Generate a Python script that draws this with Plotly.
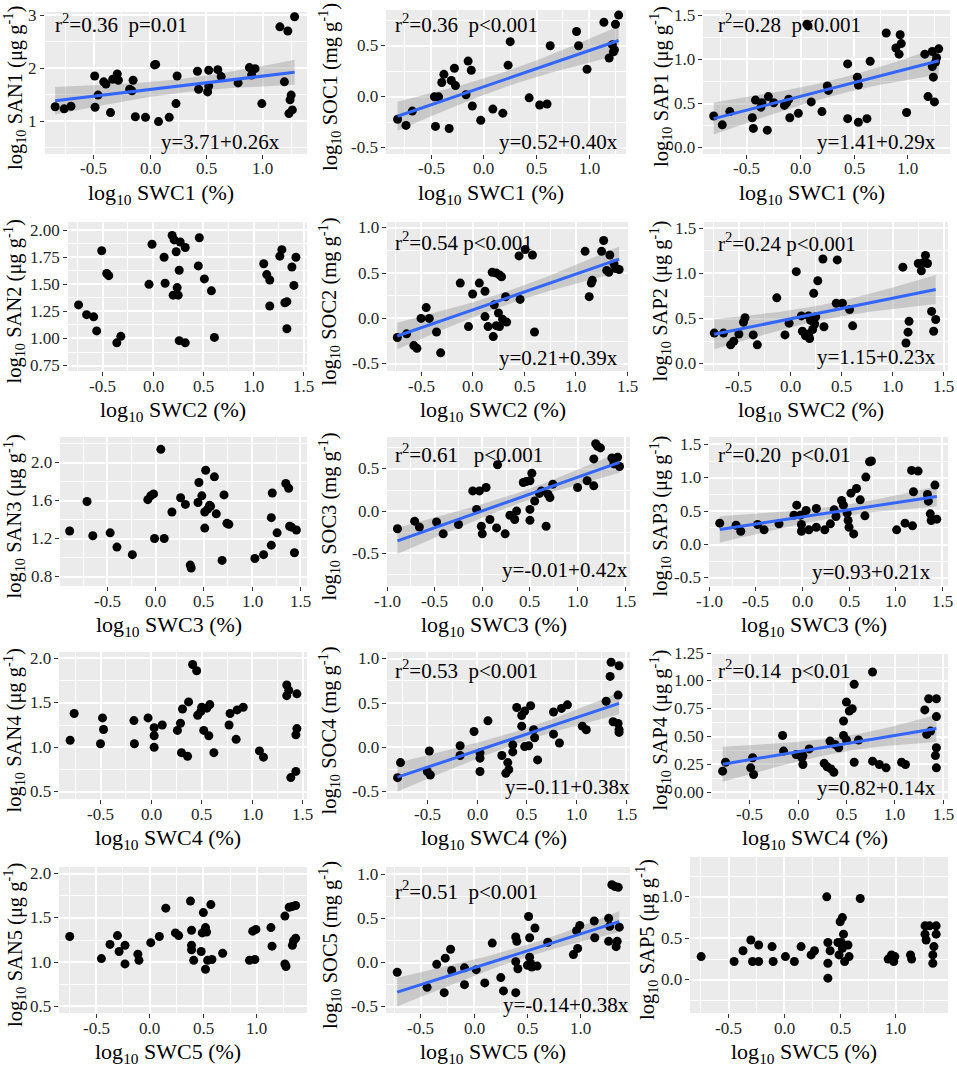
import numpy as np
import plotly.graph_objects as go

W, H = 957, 1071

# ---------------- data ----------------
SAN1_x = [-0.84, -0.76, -0.70, -0.49, -0.487, -0.46, -0.41, -0.39, -0.35, -0.33, -0.29, -0.28, -0.18, -0.16, -0.15, -0.13, -0.04, 0.04, 0.05, 0.075, 0.17, 0.23, 0.24, 0.42, 0.43, 0.51, 0.52, 0.52, 0.60, 0.63, 0.78, 0.88, 0.90, 0.93, 0.99, 1.15, 1.19, 1.22, 1.23, 1.24, 1.25, 1.26, 1.28]
SAN1_y = [1.27, 1.23, 1.28, 1.85, 1.26, 1.49, 1.74, 1.70, 1.16, 1.79, 1.89, 1.77, 1.60, 1.57, 1.77, 1.08, 1.07, 2.06, 2.07, 0.99, 1.07, 1.33, 1.85, 1.94, 1.60, 1.55, 1.96, 1.66, 1.97, 1.84, 1.72, 2.01, 1.87, 1.99, 1.33, 2.78, 1.74, 2.70, 1.14, 1.40, 1.49, 1.21, 2.97]

SOC1_x = [-0.82, -0.74, -0.68, -0.46, -0.47, -0.43, -0.40, -0.38, -0.33, -0.31, -0.28, -0.27, -0.17, -0.15, -0.12, -0.11, -0.03, 0.085, 0.18, 0.23, 0.25, 0.43, 0.53, 0.60, 0.63, 0.88, 0.90, 0.98, 1.14, 1.19, 1.22, 1.23, 1.24, 1.25, 1.28]
SOC1_y = [-0.22, -0.28, -0.14, -0.29, 0.00, 0.00, 0.14, 0.22, -0.31, 0.16, 0.28, 0.11, 0.02, 0.35, 0.26, -0.09, -0.23, -0.12, -0.16, 0.31, 0.54, -0.01, -0.08, -0.07, 0.50, 0.64, 0.50, 0.27, 0.73, 0.38, 0.51, 0.44, 0.46, 0.71, 0.80]

SAP1_x = [-0.81, -0.73, -0.66, -0.45, -0.44, -0.42, -0.37, -0.36, -0.31, -0.30, -0.25, -0.15, -0.13, -0.11, -0.10, -0.02, 0.06, 0.07, 0.10, 0.20, 0.25, 0.26, 0.44, 0.44, 0.53, 0.54, 0.54, 0.62, 0.65, 0.80, 0.89, 0.92, 0.93, 0.94, 0.99, 1.16, 1.19, 1.23, 1.23, 1.24, 1.25, 1.26, 1.27, 1.29]
SAP1_y = [0.36, 0.26, 0.41, 0.34, 0.22, 0.54, 0.46, 0.51, 0.20, 0.58, 0.51, 0.48, 0.51, 0.55, 0.34, 0.39, 1.40, 1.38, 0.52, 0.41, 0.70, 0.65, 0.95, 0.33, 0.80, 0.29, 0.71, 0.33, 0.98, 1.30, 1.13, 1.06, 1.28, 1.18, 0.40, 1.06, 0.58, 1.09, 0.92, 0.80, 0.52, 0.97, 1.02, 1.12]

SAN2_x = [-0.74, -0.66, -0.59, -0.56, -0.51, -0.46, -0.44, -0.36, -0.32, -0.04, -0.01, 0.11, 0.12, 0.19, 0.21, 0.20, 0.23, 0.24, 0.25, 0.26, 0.26, 0.27, 0.32, 0.32, 0.45, 0.46, 0.51, 0.58, 0.61, 1.10, 1.13, 1.16, 1.16, 1.26, 1.28, 1.31, 1.33, 1.33, 1.38, 1.40, 1.42]
SAN2_y = [1.31, 1.22, 1.20, 1.07, 1.81, 1.60, 1.58, 0.96, 1.02, 1.50, 1.87, 1.75, 1.51, 1.95, 1.91, 1.40, 1.80, 1.47, 1.40, 0.98, 1.63, 1.89, 1.84, 0.96, 1.67, 1.93, 1.55, 1.44, 1.01, 1.69, 1.59, 1.54, 1.30, 1.76, 1.82, 1.33, 1.34, 1.09, 1.66, 1.49, 1.75]

SOC2_x = [-0.73, -0.64, -0.57, -0.54, -0.50, -0.45, -0.42, -0.35, -0.31, -0.12, -0.04, 0.00, 0.065, 0.12, 0.12, 0.15, 0.19, 0.20, 0.21, 0.23, 0.23, 0.25, 0.26, 0.28, 0.26, 0.29, 0.32, 0.33, 0.45, 0.46, 0.51, 0.58, 0.60, 1.09, 1.13, 1.15, 1.16, 1.25, 1.27, 1.30, 1.32, 1.33, 1.37, 1.39, 1.42]
SOC2_y = [-0.21, -0.17, -0.30, -0.33, 0.00, 0.12, 0.00, -0.15, -0.38, 0.39, -0.09, 0.27, 0.39, 0.30, 0.02, -0.09, 0.51, -0.20, 0.15, 0.50, -0.08, 0.06, 0.48, 0.46, -0.09, -0.01, 0.24, -0.04, 0.69, 0.21, 0.76, 0.70, -0.15, 0.74, 0.24, 0.39, 0.42, 0.74, 0.86, 0.53, 0.51, 0.70, 0.60, 0.55, 0.54]

SAP2_x = [-0.74, -0.65, -0.58, -0.55, -0.50, -0.455, -0.44, -0.36, -0.32, -0.13, -0.05, -0.01, 0.06, 0.11, 0.12, 0.15, 0.18, 0.18, 0.19, 0.20, 0.22, 0.23, 0.24, 0.25, 0.27, 0.32, 0.33, 0.45, 0.46, 0.51, 0.58, 0.61, 1.10, 1.13, 1.15, 1.16, 1.25, 1.28, 1.30, 1.32, 1.34, 1.38, 1.40, 1.42]
SAP2_y = [0.34, 0.34, 0.21, 0.25, 0.33, 0.46, 0.51, 0.32, 0.21, 0.73, 0.32, 0.45, 1.02, 0.53, 0.36, 0.31, 0.33, 0.53, 0.28, 0.48, 0.38, 0.78, 0.44, 0.52, 0.92, 1.16, 0.41, 0.67, 1.15, 0.67, 0.60, 0.42, 1.07, 0.23, 0.35, 0.47, 1.11, 1.03, 1.12, 1.20, 1.11, 0.58, 0.36, 0.49]

SAN3_x = [-0.89, -0.71, -0.65, -0.47, -0.40, -0.24, -0.08, -0.05, -0.02, -0.01, 0.09, 0.055, 0.17, 0.26, 0.31, 0.36, 0.37, 0.44, 0.45, 0.48, 0.51, 0.51, 0.52, 0.54, 0.56, 0.57, 0.61, 0.63, 0.69, 0.71, 0.74, 0.76, 1.03, 1.12, 1.20, 1.20, 1.21, 1.26, 1.35, 1.38, 1.39, 1.41, 1.44, 1.46]
SAN3_y = [1.28, 1.59, 1.23, 1.26, 1.11, 1.03, 1.61, 1.65, 1.67, 1.20, 1.20, 2.14, 1.48, 1.63, 1.56, 0.92, 0.89, 1.58, 1.79, 1.65, 1.48, 1.31, 1.92, 1.51, 1.55, 1.54, 1.85, 1.46, 0.97, 1.66, 1.36, 1.35, 0.99, 1.03, 1.13, 1.42, 1.68, 1.26, 1.78, 1.73, 1.33, 1.32, 1.05, 1.29]

SOC3_x = [-0.89, -0.71, -0.66, -0.48, -0.41, -0.25, -0.10, -0.06, -0.03, -0.01, 0.00, 0.04, 0.08, 0.15, 0.16, 0.24, 0.29, 0.34, 0.36, 0.43, 0.46, 0.50, 0.50, 0.50, 0.52, 0.55, 0.60, 0.62, 0.67, 0.69, 0.71, 0.74, 1.00, 1.10, 1.17, 1.17, 1.19, 1.21, 1.24, 1.36, 1.38, 1.42, 1.44]
SOC3_y = [-0.21, -0.12, -0.19, -0.13, -0.27, -0.16, 0.24, 0.02, 0.24, -0.18, -0.27, 0.28, -0.10, -0.20, 0.55, -0.27, -0.05, -0.10, 0.00, 0.34, 0.35, 0.36, 0.02, -0.11, 0.45, 0.12, 0.21, 0.24, -0.18, 0.20, 0.16, 0.32, 0.28, 0.36, 0.62, 0.30, 0.80, 0.77, 0.75, 0.63, 0.56, 0.64, 0.53]

SAP3_x = [-0.885, -0.71, -0.66, -0.48, -0.41, -0.25, -0.09, -0.06, -0.02, -0.01, -0.01, 0.04, 0.07, 0.15, 0.15, 0.24, 0.30, 0.34, 0.36, 0.42, 0.44, 0.48, 0.49, 0.50, 0.52, 0.55, 0.58, 0.62, 0.67, 0.68, 0.72, 0.74, 1.01, 1.10, 1.17, 1.19, 1.18, 1.24, 1.34, 1.35, 1.37, 1.38, 1.42, 1.44]
SAP3_y = [0.32, 0.29, 0.20, 0.30, 0.22, 0.31, 0.44, 0.59, 0.44, 0.30, 0.20, 0.51, 0.22, 0.54, 0.26, 0.22, 0.31, 0.52, 0.42, 0.66, 0.59, 0.47, 0.36, 0.26, 0.77, 0.16, 0.84, 0.67, 0.43, 1.01, 1.24, 1.25, 0.22, 0.32, 1.11, 0.79, 0.28, 1.10, 0.75, 0.65, 0.46, 0.36, 0.89, 0.38]

SAN4_x = [-0.80, -0.76, -0.50, -0.48, -0.47, -0.17, -0.165, -0.03, 0.03, 0.03, 0.03, 0.11, 0.26, 0.29, 0.31, 0.30, 0.36, 0.37, 0.41, 0.45, 0.46, 0.49, 0.50, 0.52, 0.55, 0.57, 0.58, 0.62, 0.77, 0.78, 0.84, 0.85, 0.91, 1.07, 1.11, 1.34, 1.34, 1.36, 1.38, 1.43, 1.44, 1.44, 1.43]
SAN4_y = [1.08, 1.38, 1.04, 1.33, 1.20, 1.30, 1.04, 1.33, 1.22, 1.13, 1.00, 1.25, 1.19, 1.27, 1.43, 0.94, 0.90, 1.51, 1.93, 1.86, 1.36, 1.40, 1.45, 1.19, 1.44, 1.13, 1.48, 0.94, 1.25, 1.38, 1.09, 1.42, 1.45, 0.96, 0.89, 1.58, 1.70, 1.64, 0.66, 0.73, 1.60, 1.21, 1.14]

SOC4_x = [-0.80, -0.77, -0.50, -0.48, -0.47, -0.17, -0.17, -0.03, 0.03, 0.03, 0.03, 0.11, 0.25, 0.29, 0.31, 0.32, 0.36, 0.36, 0.40, 0.45, 0.45, 0.48, 0.48, 0.52, 0.54, 0.57, 0.58, 0.61, 0.77, 0.77, 0.83, 0.85, 0.91, 1.06, 1.10, 1.30, 1.34, 1.35, 1.37, 1.42, 1.42, 1.43, 1.43, 1.43]
SOC4_y = [-0.34, -0.17, -0.27, -0.04, -0.31, 0.02, -0.09, 0.18, -0.06, -0.12, -0.27, 0.30, -0.09, -0.29, -0.17, -0.25, 0.03, -0.05, 0.45, 0.36, 0.24, 0.41, 0.01, 0.02, 0.47, 0.20, 0.11, -0.14, 0.15, 0.40, 0.05, 0.44, 0.48, 0.24, 0.20, 0.52, 0.80, 0.96, 0.29, 0.27, 0.59, 0.20, 0.92, 0.17]

SAP4_x = [-0.78, -0.75, -0.49, -0.47, -0.46, -0.16, -0.15, -0.02, 0.04, 0.05, 0.05, 0.115, 0.27, 0.30, 0.33, 0.34, 0.37, 0.38, 0.42, 0.47, 0.47, 0.50, 0.50, 0.53, 0.56, 0.58, 0.58, 0.625, 0.77, 0.84, 0.91, 0.77, 1.07, 1.11, 1.31, 1.33, 1.35, 1.37, 1.43, 1.43, 1.43, 1.42, 1.43]
SAP4_y = [0.19, 0.27, 0.22, 0.31, 0.16, 0.51, 0.37, 0.34, 0.31, 0.25, 0.33, 0.39, 0.26, 0.23, 0.46, 0.21, 0.18, 0.43, 0.40, 0.64, 0.51, 0.81, 0.47, 0.73, 0.75, 0.27, 0.97, 0.47, 0.28, 0.25, 0.22, 1.08, 0.27, 0.25, 0.74, 0.52, 0.84, 0.55, 0.68, 0.84, 0.40, 0.33, 0.22]

SAN5_x = [-0.745, -0.45, -0.37, -0.30, -0.285, -0.23, -0.23, -0.11, -0.10, 0.01, 0.09, 0.15, 0.24, 0.27, 0.38, 0.39, 0.39, 0.39, 0.41, 0.48, 0.49, 0.50, 0.51, 0.52, 0.53, 0.52, 0.54, 0.57, 0.58, 0.68, 0.93, 0.96, 0.98, 0.99, 1.13, 1.14, 1.26, 1.26, 1.27, 1.30, 1.33, 1.36, 1.33, 1.34, 1.36]
SAN5_y = [1.29, 1.04, 1.20, 1.30, 1.12, 1.19, 0.98, 1.09, 1.02, 1.22, 1.29, 1.61, 1.33, 1.30, 1.69, 1.19, 1.14, 1.36, 1.02, 1.12, 1.33, 1.56, 1.35, 1.39, 1.34, 0.92, 1.02, 1.65, 1.03, 1.10, 1.02, 1.35, 1.03, 1.37, 1.39, 1.18, 1.52, 0.98, 0.95, 1.62, 1.63, 1.64, 1.19, 1.24, 1.27]

SOC5_x = [-0.72, -0.44, -0.35, -0.28, -0.27, -0.22, -0.21, -0.09, -0.09, 0.02, 0.10, 0.17, 0.25, 0.275, 0.39, 0.39, 0.40, 0.39, 0.41, 0.50, 0.51, 0.52, 0.52, 0.53, 0.54, 0.57, 0.59, 0.69, 0.93, 0.96, 0.97, 0.99, 1.125, 1.13, 1.26, 1.27, 1.26, 1.29, 1.32, 1.35, 1.34, 1.33, 1.36]
SOC5_y = [-0.11, -0.28, -0.02, -0.34, 0.05, 0.15, -0.09, -0.06, -0.25, -0.08, -0.23, 0.22, -0.17, -0.32, -0.34, 0.29, 0.24, 0.01, -0.07, -0.03, 0.52, 0.28, 0.06, -0.01, -0.05, 0.39, -0.04, 0.23, 0.09, 0.36, 0.16, 0.42, 0.47, 0.28, 0.50, 0.41, 0.24, 0.88, 0.86, 0.85, 0.24, 0.18, 0.40]

SAP5_x = [-0.745, -0.45, -0.37, -0.30, -0.285, -0.23, -0.23, -0.11, -0.10, 0.01, 0.09, 0.15, 0.24, 0.27, 0.38, 0.39, 0.39, 0.39, 0.41, 0.48, 0.49, 0.50, 0.51, 0.52, 0.53, 0.52, 0.54, 0.57, 0.58, 0.68, 0.93, 0.96, 0.98, 0.99, 1.13, 1.14, 1.26, 1.26, 1.27, 1.30, 1.33, 1.36, 1.33, 1.34, 1.36]
SAP5_y = [0.28, 0.22, 0.35, 0.48, 0.22, 0.42, 0.22, 0.40, 0.22, 0.28, 0.22, 0.40, 0.30, 0.35, 1.00, 0.02, 0.20, 0.45, 0.35, 0.45, 0.30, 0.70, 0.45, 0.75, 0.55, 0.38, 0.22, 0.42, 0.28, 0.98, 0.25, 0.30, 0.22, 0.28, 0.30, 0.25, 0.65, 0.55, 0.48, 0.65, 0.20, 0.65, 0.30, 0.40, 0.55]

# statistics labels shown in the panels
R2_LABELS = {
    "SAN1": "r<sup>2</sup>=0.36\u00a0\u00a0p=0.01",
    "SOC1": "r<sup>2</sup>=0.36\u00a0\u00a0p&lt;0.001",
    "SAP1": "r<sup>2</sup>=0.28\u00a0\u00a0p&lt;0.001",
    "SOC2": "r<sup>2</sup>=0.54 p&lt;0.001",
    "SAP2": "r<sup>2</sup>=0.24 p&lt;0.001",
    "SOC3": "r<sup>2</sup>=0.61\u00a0\u00a0\u00a0p&lt;0.001",
    "SAP3": "r<sup>2</sup>=0.20\u00a0\u00a0p&lt;0.01",
    "SOC4": "r<sup>2</sup>=0.53\u00a0\u00a0p&lt;0.001",
    "SAP4": "r<sup>2</sup>=0.14\u00a0\u00a0p&lt;0.01",
    "SOC5": "r<sup>2</sup>=0.51\u00a0\u00a0p&lt;0.001",
}
EQ_LABELS = {
    "SAN1": "y=3.71+0.26x", "SOC1": "y=0.52+0.40x", "SAP1": "y=1.41+0.29x",
    "SOC2": "y=0.21+0.39x", "SAP2": "y=1.15+0.23x",
    "SOC3": "y=-0.01+0.42x", "SAP3": "y=0.93+0.21x",
    "SOC4": "y=-0.11+0.38x", "SAP4": "y=0.82+0.14x",
    "SOC5": "y=-0.14+0.38x",
}

# tick values
XTICKS_ROW = {
    1: [-0.5, 0.0, 0.5, 1.0],
    2: [-0.5, 0.0, 0.5, 1.0, 1.5],
    3: [-1.0, -0.5, 0.0, 0.5, 1.0, 1.5],
    4: [-0.5, 0.0, 0.5, 1.0, 1.5],
    5: [-0.5, 0.0, 0.5, 1.0],
}
YTICKS = {
    "SAN1": [1, 2, 3], "SOC1": [-0.5, 0.0, 0.5], "SAP1": [0.0, 0.5, 1.0, 1.5],
    "SAN2": [0.75, 1.00, 1.25, 1.50, 1.75, 2.00], "SOC2": [-0.5, 0.0, 0.5, 1.0], "SAP2": [0.0, 0.5, 1.0, 1.5],
    "SAN3": [0.8, 1.2, 1.6, 2.0], "SOC3": [-0.5, 0.0, 0.5], "SAP3": [-0.5, 0.0, 0.5, 1.0, 1.5],
    "SAN4": [0.5, 1.0, 1.5, 2.0], "SOC4": [-0.5, 0.0, 0.5, 1.0], "SAP4": [0.00, 0.25, 0.50, 0.75, 1.00, 1.25],
    "SAN5": [0.5, 1.0, 1.5, 2.0], "SOC5": [-0.5, 0.0, 0.5, 1.0], "SAP5": [0.0, 0.5, 1.0],
}
YFMT = {"SAN1": "{:.0f}", "SAN2": "{:.2f}", "SAP4": "{:.2f}"}

DATA = {
    "SAN1": (SAN1_x, SAN1_y), "SOC1": (SOC1_x, SOC1_y), "SAP1": (SAP1_x, SAP1_y),
    "SAN2": (SAN2_x, SAN2_y), "SOC2": (SOC2_x, SOC2_y), "SAP2": (SAP2_x, SAP2_y),
    "SAN3": (SAN3_x, SAN3_y), "SOC3": (SOC3_x, SOC3_y), "SAP3": (SAP3_x, SAP3_y),
    "SAN4": (SAN4_x, SAN4_y), "SOC4": (SOC4_x, SOC4_y), "SAP4": (SAP4_x, SAP4_y),
    "SAN5": (SAN5_x, SAN5_y), "SOC5": (SOC5_x, SOC5_y), "SAP5": (SAP5_x, SAP5_y),
}

# ---------------- layout (pixel geometry) ----------------
GEOM = {
    "SAN1": ((45, 307, 12, 154), (-0.93, 1.39), (0.377, 3.06)),
    "SOC1": ((386, 626, 10, 154), (-0.93, 1.35), (-0.56, 0.85)),
    "SAP1": ((703, 950, 10, 154), (-0.91, 1.395), (-0.07, 1.56)),
    "SAN2": ((68, 307, 222, 371), (-0.845, 1.53), (0.70, 2.075)),
    "SOC2": ((387, 628, 222, 371), (-0.83, 1.506), (-0.58, 1.064)),
    "SAP2": ((704, 948, 222, 371), (-0.84, 1.54), (-0.08, 1.57)),
    "SAN3": ((60, 307, 437, 586), (-0.99, 1.57), (0.70, 2.27)),
    "SOC3": ((387, 630, 437, 586), (-1.0, 1.55), (-0.89, 0.88)),
    "SAP3": ((709, 948, 437, 586), (-1.0, 1.56), (-0.62, 1.61)),
    "SAN4": ((59, 307, 652, 799), (-0.91, 1.54), (0.42, 2.07)),
    "SOC4": ((387, 630, 652, 799), (-0.906, 1.54), (-0.58, 1.075)),
    "SAP4": ((712, 948, 652, 799), (-0.89, 1.55), (-0.06, 1.26)),
    "SAN5": ((59, 307, 867, 1013), (-0.845, 1.466), (0.425, 2.075)),
    "SOC5": ((386, 630, 867, 1013), (-0.825, 1.46), (-0.57, 1.08)),
    "SAP5": ((690, 948, 857, 1013), (-0.845, 1.466), (-0.40, 1.48)),
}
R2_POS = {"SAN1": (53, 23), "SOC1": (393, 23), "SAP1": (716, 23),
          "SOC2": (393, 242), "SAP2": (716, 243),
          "SOC3": (393, 453), "SAP3": (716, 453),
          "SOC4": (393, 669), "SAP4": (716, 669),
          "SOC5": (393, 890)}
EQ_POS = {"SAN1": (220, 142), "SOC1": (558, 142), "SAP1": (876, 142),
          "SOC2": (558, 358), "SAP2": (876, 357),
          "SOC3": (565, 570), "SAP3": (871, 572),
          "SOC4": (567, 787), "SAP4": (876, 788),
          "SOC5": (566, 1005)}
YTITLE_X = {1: 14, 2: 329, 3: 660}

ORDER = ["SAN1", "SOC1", "SAP1", "SAN2", "SOC2", "SAP2", "SAN3", "SOC3", "SAP3",
         "SAN4", "SOC4", "SAP4", "SAN5", "SOC5", "SAP5"]

FONT = "Times New Roman, Liberation Serif, Tinos, serif"
TEXT_FONT = dict(family=FONT, size=21, color="black")
XTITLE_FONT = dict(family=FONT, size=22, color="black")
YTITLE_FONT = dict(family=FONT, size=20.5, color="black")
TICK_FONT = dict(family=FONT, size=17, color="#262626")


def fx(p):
    return p / W


def fy(p):
    return 1 - p / H


def minor_vals(ticks):
    step = ticks[1] - ticks[0]
    return [ticks[0] - step / 2] + [(a + b) / 2 for a, b in zip(ticks[:-1], ticks[1:])] + [ticks[-1] + step / 2]


def fit_band(x, y):
    x = np.asarray(x, float)
    y = np.asarray(y, float)
    n = len(x)
    b, a = np.polyfit(x, y, 1)
    xs = np.linspace(x.min(), x.max(), 80)
    yh = a + b * xs
    resid = y - (a + b * x)
    s = np.sqrt(np.sum(resid ** 2) / (n - 2))
    sxx = np.sum((x - x.mean()) ** 2)
    df = n - 2
    z = 1.959964
    t = z + (z ** 3 + z) / (4 * df) + (5 * z ** 5 + 16 * z ** 3 + 3 * z) / (96 * df ** 2)
    se = s * np.sqrt(1 / n + (xs - x.mean()) ** 2 / sxx)
    return xs, yh, yh - t * se, yh + t * se


fig = go.Figure()
annotations = []
layout = dict(
    width=W, height=H,
    margin=dict(l=0, r=0, t=0, b=0),
    paper_bgcolor="white", plot_bgcolor="#EBEBEB",
    showlegend=False,
    font=dict(family=FONT, color="black", size=16),
)

for i, name in enumerate(ORDER):
    row = i // 3 + 1
    col = i % 3 + 1
    k = "" if i == 0 else str(i + 1)
    (l, r, t, b), xr, yr = GEOM[name]
    xt = XTICKS_ROW[row]
    yt = YTICKS[name]
    yf = YFMT.get(name, "{:.1f}")

    common = dict(ticks="outside", ticklen=4, tickwidth=1, tickcolor="#333333",
                  showgrid=True, gridcolor="white", gridwidth=1.8,
                  zeroline=False, showline=False, showticklabels=False,
                  tickmode="array")
    layout["xaxis" + k] = dict(
        domain=[fx(l), fx(r)], range=list(xr), anchor="y" + k, tickvals=xt,
        minor=dict(tickmode="array", tickvals=minor_vals(xt), showgrid=True,
                   gridcolor="white", gridwidth=0.9, ticks=""),
        **common)
    layout["yaxis" + k] = dict(
        domain=[fy(b), fy(t)], range=list(yr), anchor="x" + k, tickvals=yt,
        minor=dict(tickmode="array", tickvals=minor_vals(yt), showgrid=True,
                   gridcolor="white", gridwidth=0.9, ticks=""),
        **common)

    # tick labels (placed on the axes' own data scale)
    for v in xt:
        annotations.append(dict(text="{:.1f}".format(v), x=v, xref="x" + k,
                                y=0, yref="y" + k + " domain", yshift=-15,
                                xanchor="center", yanchor="middle", showarrow=False,
                                font=TICK_FONT))
    for v in yt:
        annotations.append(dict(text=yf.format(v), y=v, yref="y" + k,
                                x=0, xref="x" + k + " domain", xshift=-6,
                                xanchor="right", yanchor="middle", showarrow=False,
                                font=TICK_FONT))

    xd, yd = DATA[name]
    if name in EQ_LABELS:
        xs, yh, lo, hi = fit_band(xd, yd)
        fig.add_trace(go.Scatter(
            x=np.concatenate([xs, xs[::-1]]), y=np.concatenate([hi, lo[::-1]]),
            fill="toself", fillcolor="rgba(153,153,153,0.42)", line=dict(width=0),
            mode="lines", hoverinfo="skip", xaxis="x" + k, yaxis="y" + k))
    fig.add_trace(go.Scatter(x=xd, y=yd, mode="markers",
                             marker=dict(color="black", size=9),
                             xaxis="x" + k, yaxis="y" + k))
    if name in EQ_LABELS:
        fig.add_trace(go.Scatter(x=xs, y=yh, mode="lines",
                                 line=dict(color="#3366FF", width=3),
                                 xaxis="x" + k, yaxis="y" + k))
        rx, ry = R2_POS[name]
        annotations.append(dict(text=R2_LABELS[name], x=fx(rx), y=fy(ry), xref="paper", yref="paper",
                                xanchor="left", yanchor="middle", showarrow=False,
                                font=TEXT_FONT))
        ex, ey = EQ_POS[name]
        annotations.append(dict(text=EQ_LABELS[name], x=fx(ex), y=fy(ey), xref="paper", yref="paper",
                                xanchor="center", yanchor="middle", showarrow=False,
                                font=TEXT_FONT))

    unit = "mg" if name.startswith("SOC") else "\u03bcg"
    ytitle = "log<sub>10</sub> {} ({} g<sup>-1</sup>)".format(name, unit)
    ytx = 646 if name == "SAP5" else YTITLE_X[col]
    annotations.append(dict(text=ytitle, x=fx(ytx), y=fy((t + b) / 2 + 5),
                            xref="paper", yref="paper", textangle=-90,
                            xanchor="center", yanchor="middle", showarrow=False,
                            font=YTITLE_FONT))
    xtitle = "log<sub>10</sub> SWC{} (%)".format(row)
    annotations.append(dict(text=xtitle, x=fx((l + r) / 2 - 15), y=fy(b + 40),
                            xref="paper", yref="paper",
                            xanchor="center", yanchor="middle", showarrow=False,
                            font=XTITLE_FONT))

layout["annotations"] = annotations
fig.update_layout(**layout)
fig.write_html("out.html", config={"displayModeBar": False},
               post_script="document.body.style.margin='0px';")
